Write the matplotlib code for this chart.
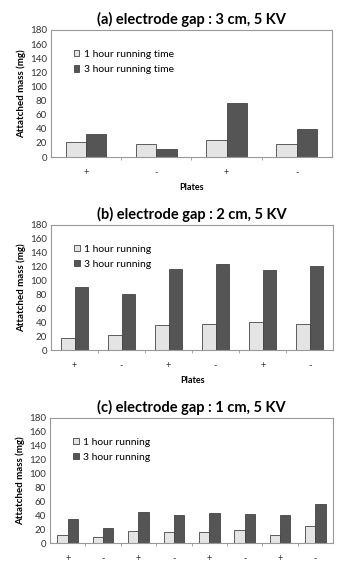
import numpy as np
import matplotlib
matplotlib.use("Agg")
import matplotlib.pyplot as plt
from matplotlib.ticker import FixedLocator

plt.rcParams['font.family'] = ['Lato', 'DejaVu Sans']

# panel (a): electrode gap 3 cm
titles = ["(a) electrode gap : 3 cm, 5 KV",
          "(b) electrode gap : 2 cm, 5 KV",
          "(c) electrode gap : 1 cm, 5 KV"]
plates_a = ["+", "-", "+", "-"]
one_hr_a = [21, 19, 24, 18]
three_hr_a = [33, 12, 76, 40]

# panel (b): electrode gap 2 cm
plates_b = ["+", "-", "+", "-", "+", "-"]
one_hr_b = [18, 22, 36, 38, 41, 38]
three_hr_b = [91, 81, 117, 124, 115, 121]

# panel (c): electrode gap 1 cm
plates_c = ["+", "-", "+", "-", "+", "-", "+", "-"]
one_hr_c = [12, 9, 17, 16, 16, 19, 11, 25]
three_hr_c = [35, 21, 45, 41, 43, 42, 40, 56]

legend_labels = [("1 hour running time", "3 hour running time"),
                 ("1 hour running", "3 hour running"),
                 ("1 hour running", "3 hour running")]

LIGHT = "#e4e4e4"
DARK = "#555555"

fig = plt.figure(figsize=(3.4, 5.66), dpi=100)
boxes = [[0.15, 0.7226, 0.826, 0.2244],
         [0.15, 0.3816, 0.83, 0.2209],
         [0.147, 0.0406, 0.833, 0.2209]]

panels = [(plates_a, one_hr_a, three_hr_a),
          (plates_b, one_hr_b, three_hr_b),
          (plates_c, one_hr_c, three_hr_c)]

for k, (plates, one_hr, three_hr) in enumerate(panels):
    ax = fig.add_axes(boxes[k])
    x = np.arange(len(plates))
    w = 0.29
    ax.bar(x - w / 2, one_hr, w, color=LIGHT, edgecolor="#444444",
           linewidth=0.6, label=legend_labels[k][0])
    ax.bar(x + w / 2, three_hr, w, color=DARK, edgecolor="#444444",
           linewidth=0.6, label=legend_labels[k][1])
    ax.set_xlim(-0.5, len(plates) - 0.5)
    ax.set_ylim(0, 180)
    ax.set_yticks(range(0, 181, 20))
    ax.set_xticks(x)
    ax.set_xticklabels(plates)
    ax.xaxis.set_minor_locator(FixedLocator(x[:-1] + 0.5))
    ax.tick_params(axis="x", which="major", length=0, labelsize=6.5,
                   pad=8, colors="#333333")
    ax.tick_params(axis="x", which="minor", length=2, color="#999999")
    ax.tick_params(axis="y", length=0, labelsize=7, pad=3,
                   colors="#333333")
    for s in ax.spines.values():
        s.set_color("#999999")
        s.set_linewidth(0.8)
    ax.set_title(titles[k], fontsize=10.5, fontweight="bold", pad=4)
    ax.set_ylabel("Attatched mass (mg)", fontsize=7, fontweight="bold",
                  labelpad=3)
    if k < 2:
        ax.set_xlabel("Plates", fontsize=6.5, fontweight="bold", labelpad=4)
    ax.legend(loc="upper left", bbox_to_anchor=(0.055, 0.9), frameon=False,
              fontsize=7.5, handlelength=0.55, handleheight=0.55,
              handletextpad=0.45, labelspacing=0.6, borderpad=0.2,
              prop={"size": 7.5})

fig.savefig("out.png", dpi=100)
